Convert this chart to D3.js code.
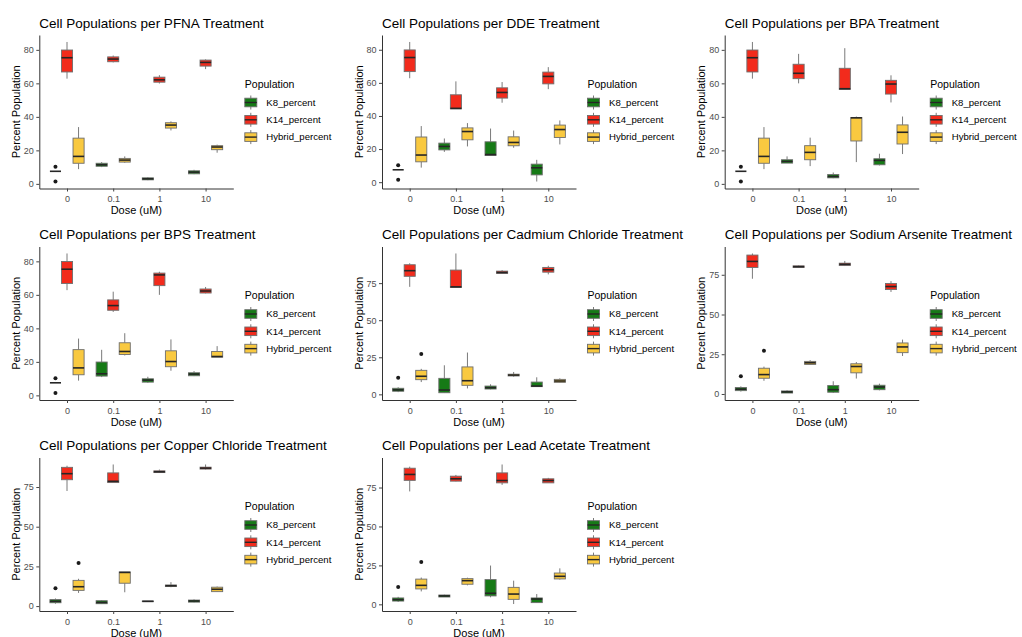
<!DOCTYPE html>
<html>
<head>
<meta charset="utf-8">
<script src="https://cdn.jsdelivr.net/npm/d3@7"></script>
<style>
  body { margin: 0; background: #fff; }
  svg { font-family: "Liberation Sans", Arial, sans-serif; }
</style>
</head>
<body>
<div id="chart"></div>
<script>
// Chart data
const treatments = ["PFNA", "DDE", "BPA", "BPS", "Cadmium Chloride", "Sodium Arsenite", "Copper Chloride", "Lead Acetate"];
const doses = ["0", "0.1", "1", "10"];
const populations = ["K8_percent", "K14_percent", "Hybrid_percent"];
const popColors = ["#167a16", "#f22b1c", "#f9c940"];
const yTicksOrganic = [0, 20, 40, 60, 80];
const yTicksMetal = [0, 25, 50, 75];

// box stats: [lower whisker, q1, median, q3, upper whisker], one per population
const controlOrganic = [[7.5, 7.5, 7.5, 7.5, 7.5], [62.8, 66.8, 75.3, 79.9, 84.7], [8.8, 12.3, 16.4, 27.3, 33.9]];
const controlOrganicOutliers = [[10.2, 1.4], [], []];
const controlMetal = [[1.5, 2.1, 3.0, 4.1, 4.8], [72.5, 79.6, 83.4, 87.4, 88.4], [8.3, 9.9, 12.2, 16.2, 17.2]];
const controlMetalOutliers = [[11.2], [], [27.2]];

// treated doses 0.1, 1, 10
const pfnaBoxes = [
  [[10.0, 10.5, 11.4, 12.3, 13.0], [72.5, 72.9, 74.5, 75.8, 76.6], [12.6, 13.0, 14.2, 15.2, 16.4]],
  [[2.2, 2.4, 3.0, 3.6, 4.0], [59.9, 60.7, 62.1, 63.7, 64.9], [31.9, 33.3, 35.1, 36.5, 37.3]],
  [[5.8, 6.0, 7.0, 7.8, 8.4], [68.5, 70.3, 72.5, 73.9, 74.3], [18.6, 20.4, 22.0, 22.8, 23.4]]
];
const ddeBoxes = [
  [[18.3, 19.5, 21.6, 23.6, 26.4], [44.3, 44.3, 44.6, 52.8, 60.9], [21.6, 25.6, 30.6, 32.8, 35.7]],
  [[16.1, 16.1, 16.7, 24.4, 32.4], [48.0, 50.8, 54.2, 57.0, 60.5], [20.8, 22.0, 24.0, 27.4, 31.2]],
  [[0.4, 4.4, 8.7, 10.9, 13.5], [56.2, 59.4, 63.9, 66.5, 69.5], [22.8, 27.0, 31.8, 34.5, 37.3]]
];
const bpaBoxes = [
  [[12.4, 12.4, 13.4, 14.4, 16.4], [60.0, 62.8, 66.0, 71.4, 77.6], [10.6, 14.4, 18.8, 22.8, 27.6]],
  [[3.4, 3.6, 4.4, 5.6, 6.8], [56.4, 56.4, 56.8, 69.0, 81.0], [13.0, 25.6, 39.4, 39.6, 40.2]],
  [[11.0, 11.4, 14.0, 15.0, 18.0], [48.6, 53.6, 59.6, 61.8, 64.8], [17.8, 23.8, 30.8, 35.2, 40.2]]
];
const bpsBoxes = [
  [[10.9, 11.5, 12.9, 19.9, 27.2], [49.8, 50.8, 53.6, 57.0, 61.9], [23.8, 24.4, 26.2, 31.4, 37.1]],
  [[7.5, 7.9, 9.1, 9.9, 11.1], [60.0, 65.5, 71.9, 73.0, 73.8], [14.7, 17.1, 20.2, 26.6, 33.4]],
  [[11.5, 11.7, 12.7, 13.5, 14.5], [60.9, 61.1, 62.3, 63.5, 64.7], [22.8, 22.8, 23.2, 26.2, 29.4]]
];
const cadmiumBoxes = [
  [[0.9, 1.1, 2.9, 10.8, 19.6], [72.1, 72.1, 72.5, 83.8, 95.0], [4.0, 6.1, 9.2, 18.5, 28.2]],
  [[3.4, 3.6, 4.5, 5.6, 6.8], [81.3, 81.5, 82.2, 83.1, 83.8], [11.9, 12.4, 13.0, 13.6, 15.1]],
  [[5.2, 5.2, 5.6, 8.3, 11.5], [80.9, 82.4, 84.0, 85.6, 86.7], [7.9, 8.1, 9.0, 10.1, 10.8]]
];
const arseniteBoxes = [
  [[0.6, 0.6, 1.3, 1.9, 2.3], [79.4, 79.6, 80.1, 80.6, 80.9], [18.4, 18.6, 19.6, 20.5, 21.3]],
  [[0.6, 1.1, 2.7, 5.3, 8.0], [80.5, 80.8, 81.6, 82.3, 83.7], [9.7, 13.3, 17.3, 19.0, 20.1]],
  [[2.3, 2.7, 4.4, 5.5, 6.5], [64.2, 65.7, 67.6, 69.5, 71.0], [23.9, 26.0, 29.6, 32.1, 34.2]]
];
const copperBoxes = [
  [[1.3, 1.5, 2.3, 3.4, 3.8], [77.8, 77.8, 78.6, 83.9, 89.2], [8.7, 14.4, 21.2, 21.5, 21.5]],
  [[2.8, 2.8, 3.0, 3.2, 3.2], [83.9, 84.1, 84.6, 85.2, 86.0], [11.9, 12.3, 12.8, 13.3, 15.1]],
  [[2.3, 2.5, 3.2, 3.8, 4.2], [86.0, 86.3, 86.9, 87.5, 89.2], [8.9, 9.1, 10.6, 11.9, 12.3]]
];
const leadBoxes = [
  [[4.7, 4.7, 5.4, 6.0, 6.2], [78.9, 79.1, 80.6, 82.3, 83.1], [12.2, 12.9, 15.2, 16.5, 17.1]],
  [[4.5, 5.4, 7.1, 15.9, 24.9], [76.7, 78.0, 79.5, 84.4, 89.8], [0.2, 3.2, 6.6, 10.9, 15.2]],
  [[0.9, 1.1, 3.4, 4.1, 6.6], [78.0, 78.0, 79.5, 80.6, 81.2], [15.9, 16.3, 18.0, 20.1, 23.1]]
];
const treatedBoxes = [pfnaBoxes, ddeBoxes, bpaBoxes, bpsBoxes, cadmiumBoxes, arseniteBoxes, copperBoxes, leadBoxes];

// Layout
const colX = [39.3, 382, 724.7];
const rowY = [35, 246.5, 457.5];
const plotW = 194, plotH = 153.5;

const svg = d3.select("#chart")
  .append("svg")
  .attr("width", 1022)
  .attr("height", 637);

treatments.forEach((name, i) => {
  const metal = i >= 4;
  const left = colX[i % 3], top = rowY[Math.floor(i / 3)];

  // dose 0 is the shared control, doses 0.1/1/10 are per treatment
  const boxes = [metal ? controlMetal : controlOrganic].concat(treatedBoxes[i]);
  const outliers = [metal ? controlMetalOutliers : controlOrganicOutliers, [[], [], []], [[], [], []], [[], [], []]];

  const rows = [];
  boxes.forEach((dose, di) => {
    dose.forEach((s, pi) => {
      rows.push({ dose: doses[di], pop: pi, lo: s[0], q1: s[1], med: s[2], q3: s[3], hi: s[4], out: outliers[di][pi] });
    });
  });

  const allVals = rows.flatMap(d => [d.lo, d.hi, ...d.out]);
  const lo = d3.min(allVals), hi = d3.max(allVals), pad = (hi - lo) * 0.05;

  const g = svg.append("g").attr("transform", `translate(${left},${top})`);

  const x = d3.scalePoint().domain(doses).range([0, plotW]).padding(0.6);
  const y = d3.scaleLinear().domain([lo - pad, hi + pad]).range([plotH, 0]);
  const step = x.step();
  const bw = step * 0.24;
  const cx = d => x(d.dose) + (d.pop - 1) * step * 0.25;

  // Title
  g.append("text")
    .attr("x", 0)
    .attr("y", -7.5)
    .attr("font-size", "13.5px")
    .attr("fill", "#000")
    .text(`Cell Populations per ${name} Treatment`);

  // Boxes
  const box = g.selectAll(".box")
    .data(rows)
    .enter().append("g")
    .attr("class", "box");

  box.append("line")
    .attr("x1", cx).attr("x2", cx)
    .attr("y1", d => y(d.hi)).attr("y2", d => y(d.q3))
    .attr("stroke", "#7a7a7a").attr("stroke-width", 1);
  box.append("line")
    .attr("x1", cx).attr("x2", cx)
    .attr("y1", d => y(d.q1)).attr("y2", d => y(d.lo))
    .attr("stroke", "#7a7a7a").attr("stroke-width", 1);
  box.append("rect")
    .attr("x", d => cx(d) - bw / 2)
    .attr("width", bw)
    .attr("y", d => y(d.q3))
    .attr("height", d => Math.max(0, y(d.q1) - y(d.q3)))
    .attr("fill", d => popColors[d.pop])
    .attr("stroke", "#6e6e6e")
    .attr("stroke-width", 0.9);
  box.append("line")
    .attr("x1", d => cx(d) - bw / 2).attr("x2", d => cx(d) + bw / 2)
    .attr("y1", d => y(d.med)).attr("y2", d => y(d.med))
    .attr("stroke", "#262626").attr("stroke-width", 1.6);
  box.selectAll("circle")
    .data(d => d.out.map(v => ({ v, c: cx(d) })))
    .enter().append("circle")
    .attr("cx", d => d.c)
    .attr("cy", d => y(d.v))
    .attr("r", 2)
    .attr("fill", "#1a1a1a");

  // Axes
  const yAxis = g.append("g")
    .call(d3.axisLeft(y).tickValues(metal ? yTicksMetal : yTicksOrganic).tickSize(3).tickSizeOuter(0).tickPadding(2.5));
  const xAxis = g.append("g")
    .attr("transform", `translate(0,${plotH})`)
    .call(d3.axisBottom(x).tickSize(3).tickSizeOuter(0).tickPadding(4.5));
  [yAxis, xAxis].forEach(a => {
    a.attr("font-family", null).attr("font-size", null);
    a.select("path.domain").attr("stroke", "#333").attr("stroke-width", 1);
    a.selectAll(".tick line").attr("stroke", "#444");
    a.selectAll(".tick text").attr("fill", "#4d4d4d").attr("font-size", "9px");
  });

  // Axis titles
  g.append("text")
    .attr("x", plotW / 2)
    .attr("y", plotH + 25.5)
    .attr("text-anchor", "middle")
    .attr("font-size", "11px")
    .text("Dose (uM)");
  g.append("text")
    .attr("transform", `translate(${-19.5},${plotH / 2}) rotate(-90)`)
    .attr("text-anchor", "middle")
    .attr("font-size", "11px")
    .text("Percent Population");

  // Legend
  const legend = g.append("g")
    .attr("transform", `translate(${plotW + 17.5}, 0)`);
  legend.append("text")
    .attr("x", -6)
    .attr("y", 52.5)
    .attr("font-size", "10.5px")
    .text("Population");
  populations.forEach((p, pi) => {
    const item = legend.append("g")
      .attr("transform", `translate(0, ${67.5 + pi * 17.3})`);
    item.append("line")
      .attr("x1", 0).attr("x2", 0).attr("y1", -7).attr("y2", 7)
      .attr("stroke", "#7a7a7a");
    item.append("rect")
      .attr("x", -6).attr("y", -4.3)
      .attr("width", 12).attr("height", 8.6)
      .attr("fill", popColors[pi])
      .attr("stroke", "#6e6e6e").attr("stroke-width", 0.9);
    item.append("line")
      .attr("x1", -6).attr("x2", 6).attr("y1", 0).attr("y2", 0)
      .attr("stroke", "#262626").attr("stroke-width", 1.4);
    item.append("text")
      .attr("x", 15.5)
      .attr("y", 3.3)
      .attr("font-size", "9.6px")
      .text(p);
  });
});
</script>
</body>
</html>
